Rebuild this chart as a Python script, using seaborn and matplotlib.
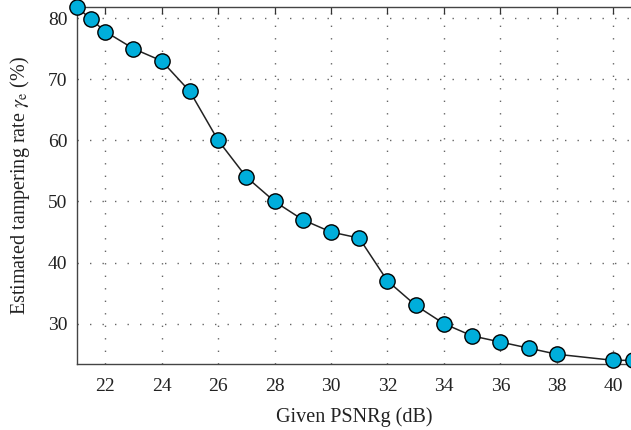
import matplotlib
matplotlib.use('Agg')
import matplotlib.pyplot as plt
import seaborn as sns
import pandas as pd

# values
psnr_db = [21, 21.5, 22, 23, 24, 25, 26, 27, 28, 29, 30, 31, 32, 33, 34, 35, 36, 37, 38, 40, 40.7]
tamper_rate = [81.8, 79.8, 77.8, 75, 73, 68, 60, 54, 50, 47, 45, 44, 37, 33, 30, 28, 27, 26, 25, 24, 24]
x_ticks = [22, 24, 26, 28, 30, 32, 34, 36, 38, 40]
y_ticks = [30, 40, 50, 60, 70, 80]

df = pd.DataFrame({'psnr': psnr_db, 'rate': tamper_rate})

sns.set_style('white')
plt.rcParams['font.family'] = ['Liberation Serif', 'DejaVu Serif']
plt.rcParams['mathtext.fontset'] = 'stix'

fig = plt.figure(figsize=(6.31, 4.30), dpi=100)
ax = fig.add_axes([0.122, 0.1535, 0.878, 0.830])

sns.lineplot(data=df, x='psnr', y='rate', ax=ax, color='#222222', linewidth=1.1,
             marker='o', markersize=11, markerfacecolor='#00AEDB',
             markeredgecolor='black', markeredgewidth=1.0, clip_on=False, zorder=3)

ax.set_xlim(21, 40.63)
ax.set_ylim(23.4, 81.8)
ax.set_xticks(x_ticks)
ax.set_yticks(y_ticks)
ax.grid(True, linestyle=(0, (1, 8)), color='#666666', linewidth=1.0)
ax.tick_params(direction='in', top=True, right=False, length=5, width=0.9,
               labelsize=14, colors='#333333', labelcolor='#222222', pad=7)
ax.tick_params(axis='x', pad=10)
for side in ['left', 'bottom', 'top']:
    ax.spines[side].set_color('#444444')
    ax.spines[side].set_linewidth(1.0)
ax.spines['right'].set_visible(False)

ax.set_xlabel('Given PSNRg (dB)', fontsize=14.5, color='#222222', labelpad=9)
ax.set_ylabel(r'Estimated tampering rate $\gamma_\mathrm{e}$ (%)', fontsize=14.5, color='#222222', labelpad=11)

fig.savefig('out.png', dpi=100)
